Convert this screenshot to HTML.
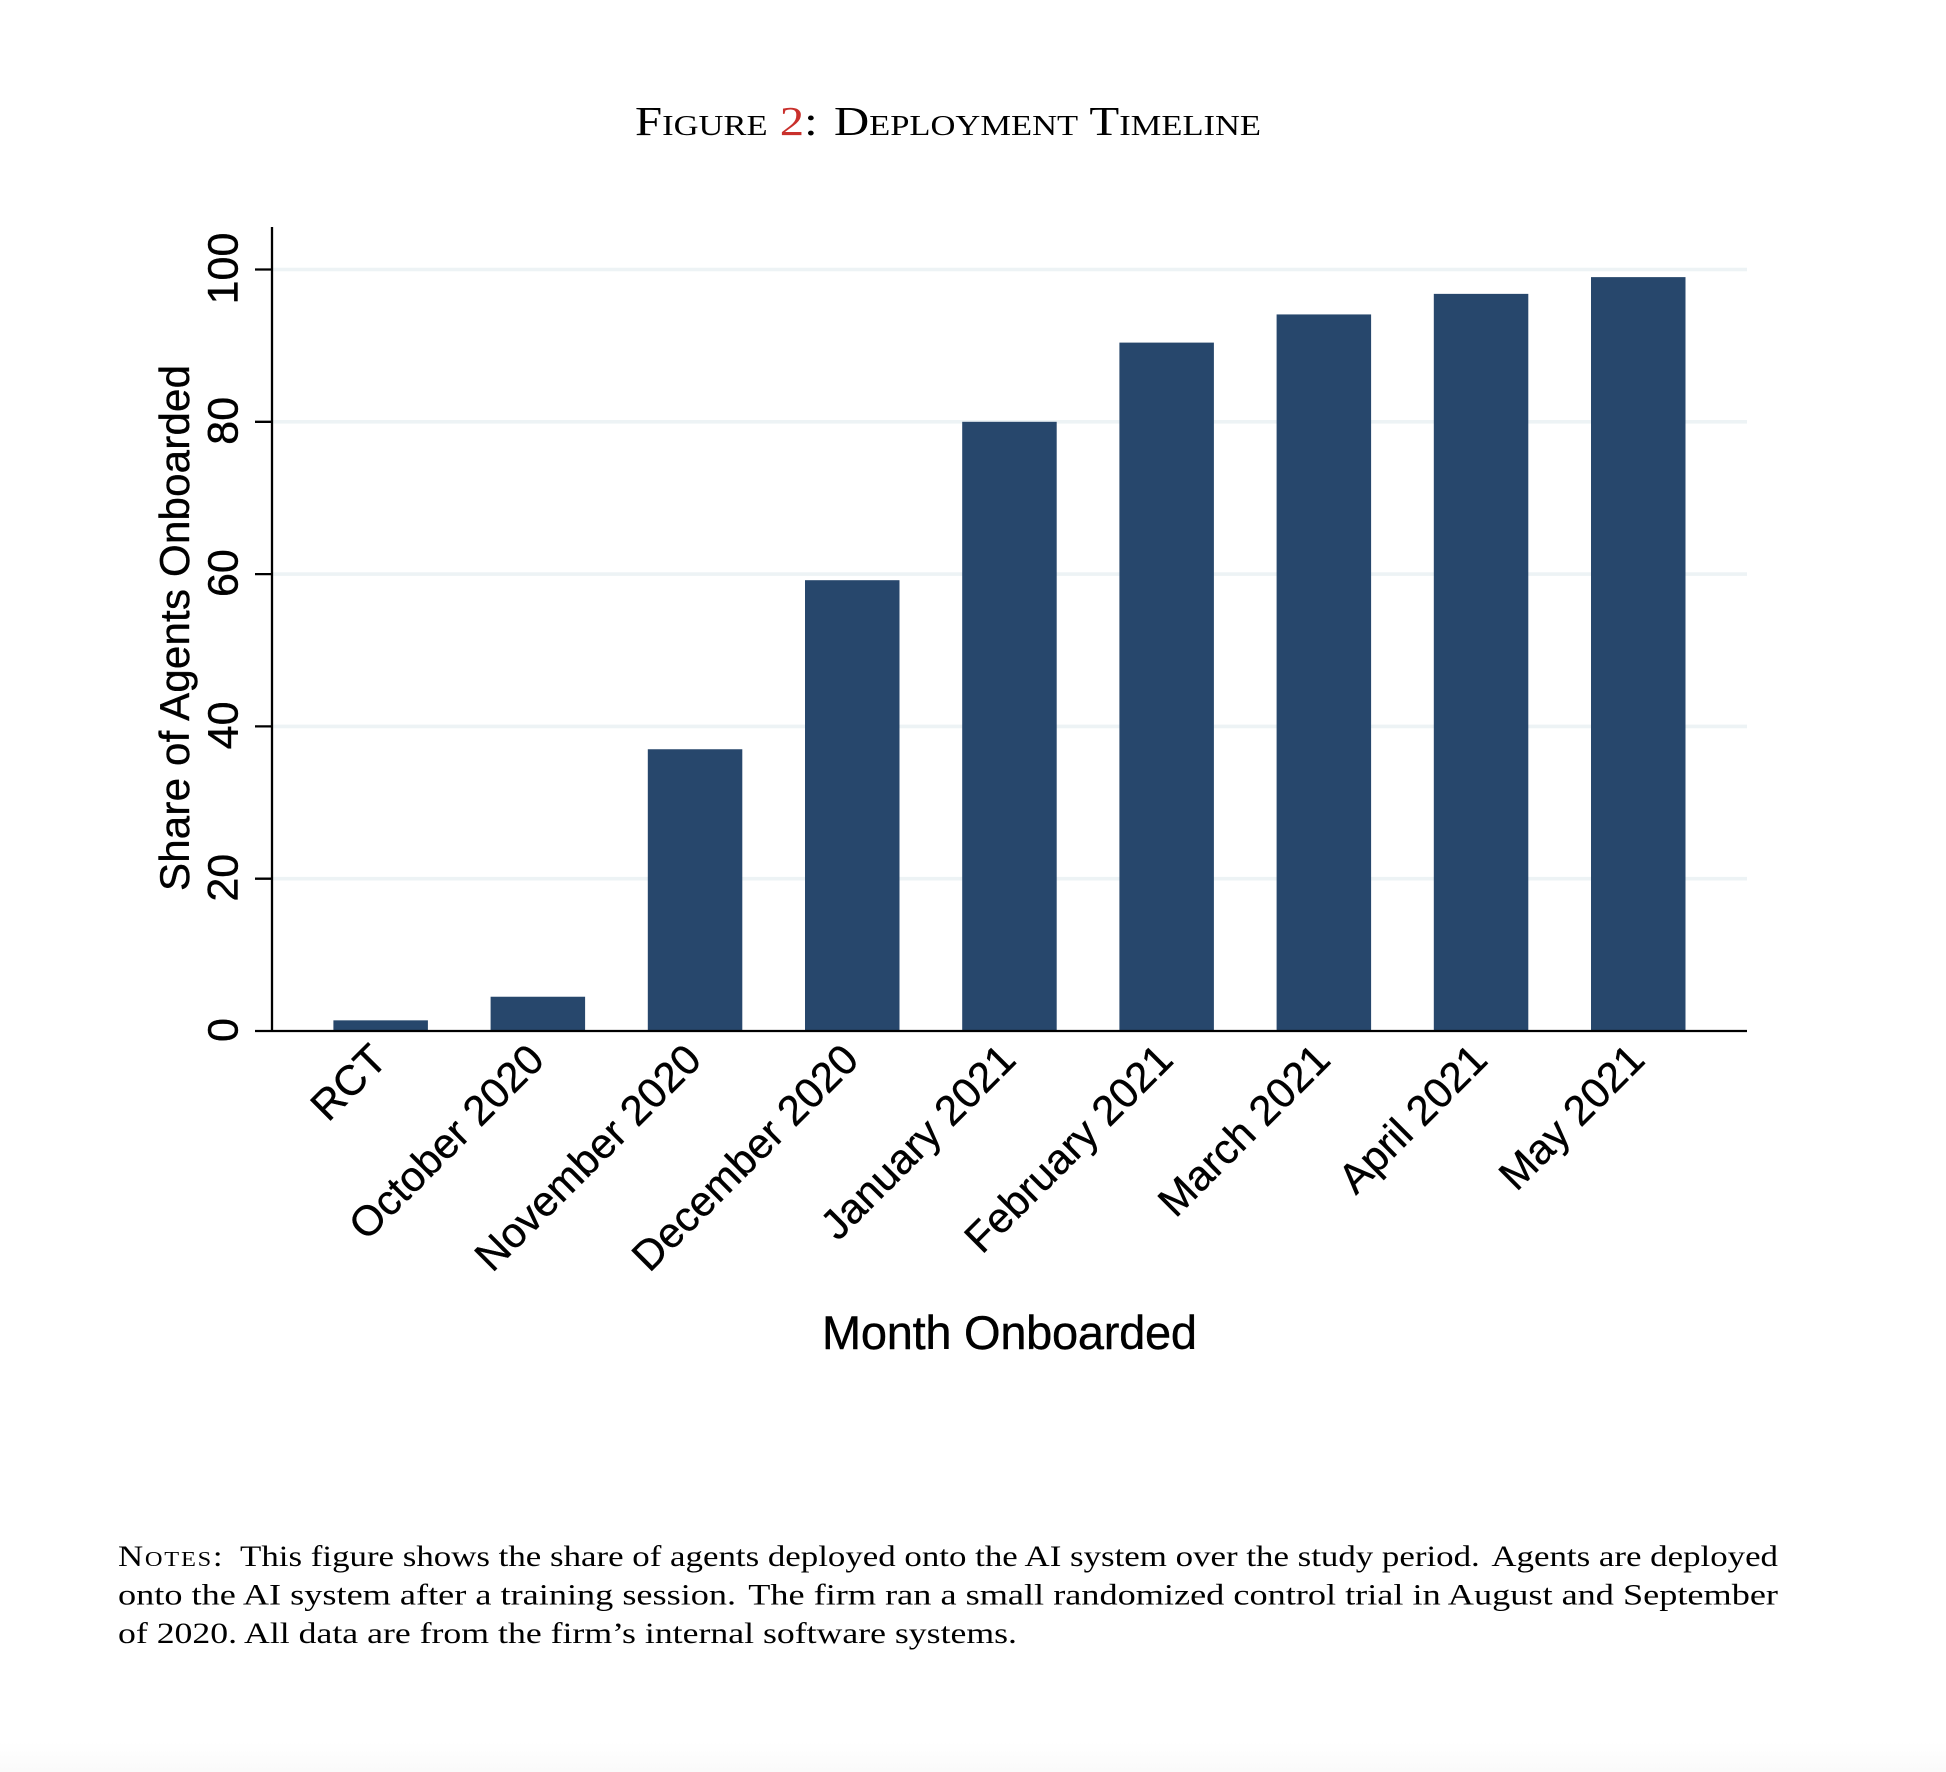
<!DOCTYPE html>
<html lang="en">
<head>
<meta charset="utf-8">
<title>Figure 2: Deployment Timeline</title>
<style>
html,body{margin:0;padding:0;background:#fff;}
body{width:1946px;height:1772px;overflow:hidden;position:relative;}
svg{position:absolute;left:0;top:0;display:block;}
.sans{font-family:"Liberation Sans",Arial,sans-serif;fill:#000;stroke:#000;stroke-width:0.4px;}
.serif{font-family:"Liberation Serif","Times New Roman",serif;fill:#000;}
</style>
</head>
<body>
<svg id="chart" width="1946" height="1772" viewBox="0 0 1946 1772" xmlns="http://www.w3.org/2000/svg">
  <defs>
    <linearGradient id="fade" x1="0" y1="0" x2="0" y2="1">
      <stop offset="0" stop-color="#ffffff"/>
      <stop offset="1" stop-color="#fafafa"/>
    </linearGradient>
  </defs>
  <rect x="0" y="1742" width="1946" height="30" fill="url(#fade)"/>

  <text class="serif" x="635" y="135" font-size="41" textLength="626" lengthAdjust="spacingAndGlyphs" style="font-variant:small-caps">Figure <tspan fill="#c9302c">2</tspan>: &#8202;Deployment Timeline</text>

  <g id="grid"></g>
  <g id="bars"></g>
  <g id="axes"></g>
  <g id="yticks"></g>
  <g id="xlabels"></g>

  <text class="sans" transform="translate(189 891) rotate(-90)" font-size="42" textLength="526" lengthAdjust="spacing">Share of Agents Onboarded</text>
  <text class="sans" x="822" y="1349" font-size="47" textLength="375" lengthAdjust="spacing">Month Onboarded</text>

  <g>
    <text class="serif" x="118" y="1566" font-size="30" textLength="1660" lengthAdjust="spacingAndGlyphs"><tspan style="font-variant:small-caps;letter-spacing:1.5px">Notes:</tspan> &#8201;This figure shows the share of agents deployed onto the AI system over the study period. &#8202;Agents are deployed</text>
    <text class="serif" x="118" y="1604.5" font-size="30" textLength="1660" lengthAdjust="spacingAndGlyphs">onto the AI system after a training session. &#8202;The firm ran a small randomized control trial in August and September</text>
    <text class="serif" x="118" y="1643" font-size="30" textLength="899" lengthAdjust="spacingAndGlyphs">of 2020. All data are from the firm’s internal software systems.</text>
  </g>
</svg>
<script>
const categories = ['RCT','October 2020','November 2020','December 2020','January 2021','February 2021','March 2021','April 2021','May 2021'];
const shareOnboarded = [1.4,4.5,37.0,59.2,80.0,90.4,94.1,96.8,99.0];
const yTickValues = [0,20,40,60,80,100];

const NS = 'http://www.w3.org/2000/svg';
const plotLeft = 272, plotRight = 1747, plotTop = 227, baseY = 1031, yScale = 7.615;
const firstCenter = 380.65, step = 157.2, barWidth = 94.5;
const xPos = function (i) { return firstCenter + i * step; };
const yPos = function (v) { return baseY - v * yScale; };

function make(tag, attrs, parent) {
  const el = document.createElementNS(NS, tag);
  Object.keys(attrs).forEach(function (k) { el.setAttribute(k, attrs[k]); });
  parent.appendChild(el);
  return el;
}

const gridG = document.getElementById('grid');
const barsG = document.getElementById('bars');
const axesG = document.getElementById('axes');
const yTicksG = document.getElementById('yticks');
const xLabelsG = document.getElementById('xlabels');

yTickValues.forEach(function (v) {
  if (v !== 0) {
    const g = make('line', {x1: plotLeft, x2: plotRight, y1: yPos(v), y2: yPos(v), stroke: '#edf3f5', 'stroke-width': 3.6}, gridG);
    
    
  }
  const t = make('line', {x1: 255, x2: plotLeft, y1: yPos(v), y2: yPos(v), stroke: '#000', 'stroke-width': 2.3}, yTicksG);
  
  
  const l = make('text', {class: 'sans', 'font-size': 43, 'text-anchor': 'middle', transform: 'translate(237.5 ' + (yPos(v) - 1) + ') rotate(-90)'}, yTicksG);
  l.textContent = String(v);
  
  
});

shareOnboarded.forEach(function (v, i) {
  const b = make('rect', {x: xPos(i) - barWidth / 2, y: yPos(v), width: barWidth, height: baseY - yPos(v), fill: '#27476c'}, barsG);
  
  
});

categories.forEach(function (c, i) {
  const t = make('text', {class: 'sans', 'font-size': 42, 'text-anchor': 'end', transform: 'translate(' + (xPos(i) + 8.5) + ' 1062) rotate(-45)'}, xLabelsG);
  t.textContent = c;
  
  
});

const yAxis = make('line', {x1: plotLeft, x2: plotLeft, y1: plotTop, y2: baseY + 1, stroke: '#000', 'stroke-width': 2.3}, axesG);


const xAxis = make('line', {x1: plotLeft, x2: plotRight, y1: baseY, y2: baseY, stroke: '#000', 'stroke-width': 2.3}, axesG);


</script>
</body>
</html>
